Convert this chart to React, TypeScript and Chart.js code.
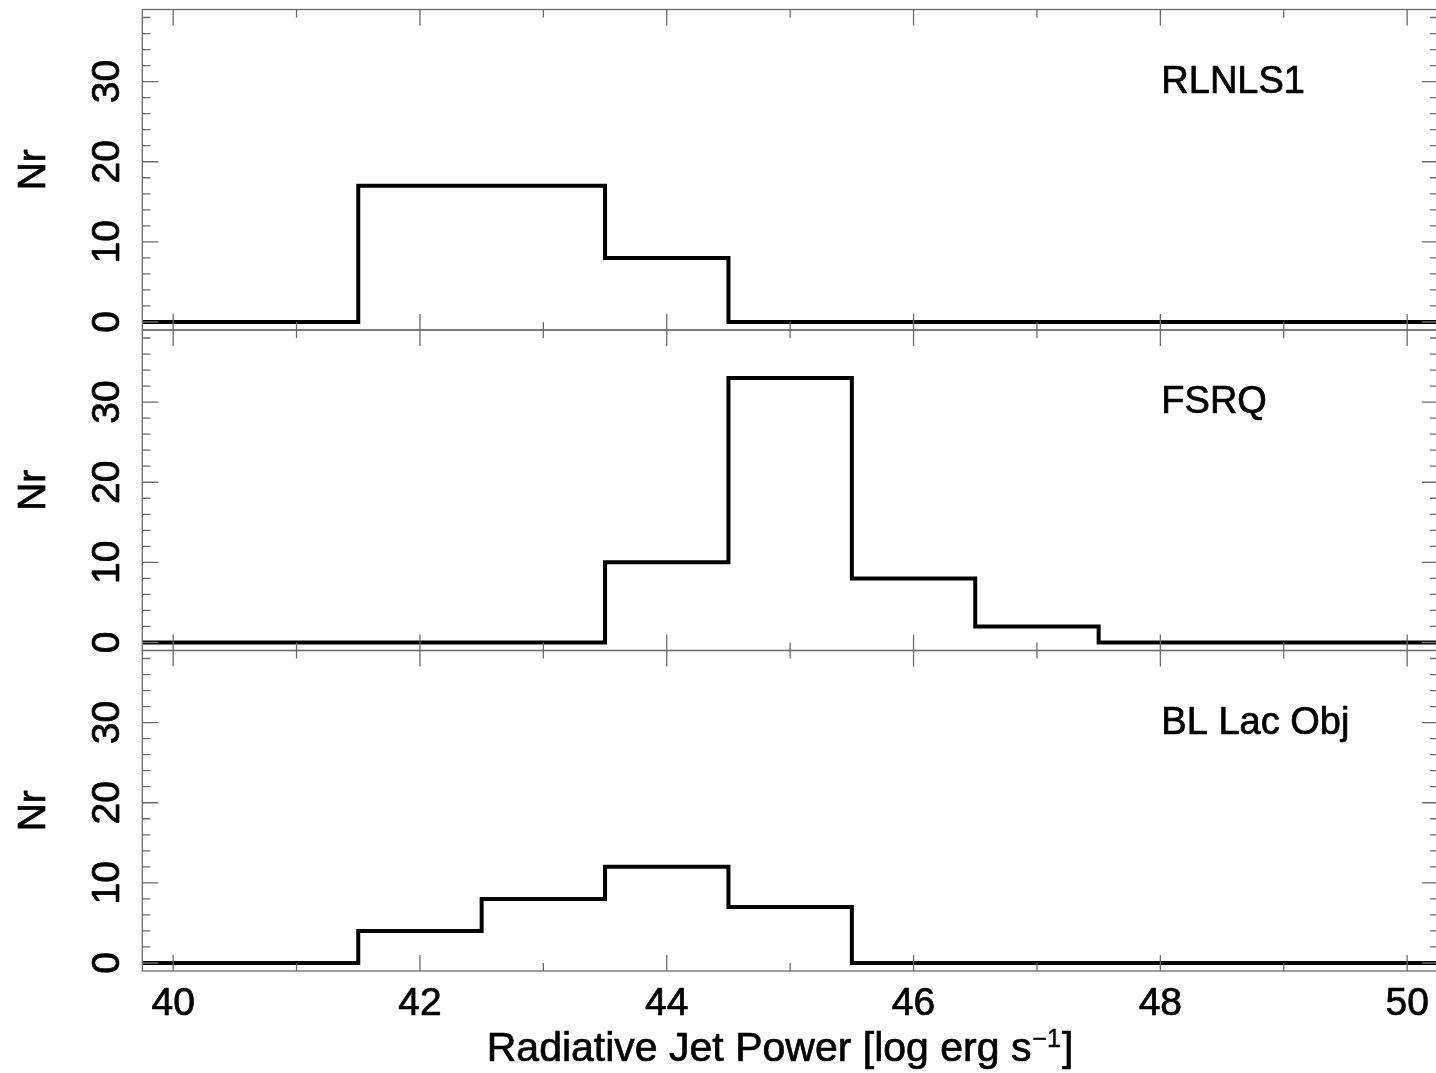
import React, { useEffect, useRef } from "react";
import { Chart, registerables } from "chart.js";

Chart.register(...registerables);

// ---- Data ----
const binEdges = [39.5, 40.5, 41.5, 42.5, 43.5, 44.5, 45.5, 46.5, 47.5, 48.5, 49.5, 50.5];
const rlnls1Counts = [0, 0, 17, 17, 8, 0, 0, 0, 0, 0, 0];
const fsrqCounts = [0, 0, 0, 0, 10, 33, 8, 2, 0, 0, 0];
const blLacCounts = [0, 0, 4, 8, 12, 7, 0, 0, 0, 0, 0];
const panelNames = ["RLNLS1", "FSRQ", "BL Lac Obj"];
const panelCounts = [rlnls1Counts, fsrqCounts, blLacCounts];

const xMajorTicks = [40, 42, 44, 46, 48, 50];
const xMinorTicks = [41, 43, 45, 47, 49];
const yMajorTicks = [0, 10, 20, 30];
const yMinorTicks = [2, 4, 6, 8, 12, 14, 16, 18, 22, 24, 26, 28, 32, 34, 36, 38];
const xMin = 39.75;
const xMax = 50.25;
const yMin = -1;
const yMax = 39;
const labelX = 48;
const labelY = 30;

const xTitleMain = "Radiative Jet Power [log erg s";
const xTitleSup = "\u22121";
const xTitleEnd = "]";
const yTitle = "Nr";

// ---- Layout ----
const W = 1440;
const H = 1073;
const PANEL_TOPS = [9.5, 330, 650.5];
const PANEL_H = 320.5;
const PLOT_LEFT = 142.3;
const PLOT_RIGHT = 1438;
const FONT = '"Liberation Sans", Arial, Helvetica, sans-serif';

function fillBold(ctx: any, text: string, x: number, y: number) {
  ctx.fillText(text, x, y);
  ctx.strokeText(text, x, y);
}

function makePlugin(idx: number) {
  const isBottom = idx === 2;
  return {
    id: "frame" + idx,
    afterDraw(chart: any) {
      const { ctx, chartArea } = chart;
      const { left, right, top, bottom } = chartArea;
      const xs = chart.scales.x;
      const ys = chart.scales.y;
      ctx.save();
      // frame
      ctx.strokeStyle = "#6a6a6a";
      ctx.lineWidth = 1.3;
      ctx.strokeRect(left, top, right - left, bottom - top);
      // x ticks
      const drawX = (vals: number[], len: number) => {
        vals.forEach((v) => {
          const px = xs.getPixelForValue(v);
          ctx.beginPath();
          ctx.moveTo(px, top);
          ctx.lineTo(px, top + len);
          ctx.moveTo(px, bottom);
          ctx.lineTo(px, bottom - len);
          ctx.stroke();
        });
      };
      drawX(xMajorTicks, 16);
      drawX(xMinorTicks, 8);
      const drawY = (vals: number[], len: number) => {
        vals.forEach((v) => {
          const py = ys.getPixelForValue(v);
          ctx.beginPath();
          ctx.moveTo(left, py);
          ctx.lineTo(left + len, py);
          ctx.moveTo(right, py);
          ctx.lineTo(right - len, py);
          ctx.stroke();
        });
      };
      drawY(yMajorTicks, 16);
      drawY(yMinorTicks, 8);

      // text styling
      ctx.fillStyle = "#000";
      ctx.strokeStyle = "#000";
      ctx.lineWidth = 0.7;
      ctx.lineJoin = "round";
      ctx.font = `39px ${FONT}`;
      ctx.textAlign = "center";
      ctx.textBaseline = "alphabetic";
      yMajorTicks.forEach((v) => {
        const py = ys.getPixelForValue(v);
        ctx.save();
        ctx.translate(118.5, py);
        ctx.rotate(-Math.PI / 2);
        fillBold(ctx, String(v), 0, 0);
        ctx.restore();
      });
      // y title
      ctx.save();
      ctx.translate(45, (top + bottom) / 2);
      ctx.rotate(-Math.PI / 2);
      fillBold(ctx, yTitle, 0, 0);
      ctx.restore();

      // panel label
      ctx.font = `38px ${FONT}`;
      ctx.textAlign = "left";
      fillBold(ctx, panelNames[idx], xs.getPixelForValue(labelX) + 1, ys.getPixelForValue(labelY) + 11);

      if (isBottom) {
        ctx.font = `39px ${FONT}`;
        ctx.textAlign = "center";
        xMajorTicks.forEach((v) => {
          fillBold(ctx, String(v), xs.getPixelForValue(v), 1015);
        });
        // x title with superscript
        const mainFont = `41px ${FONT}`;
        const supFont = `25px ${FONT}`;
        ctx.font = mainFont;
        const w1 = ctx.measureText(xTitleMain).width;
        const w3 = ctx.measureText(xTitleEnd).width;
        ctx.font = supFont;
        const w2 = ctx.measureText(xTitleSup).width;
        const total = w1 + w2 + w3 + 2;
        let sx = 780 - total / 2;
        const base = 1061;
        ctx.textAlign = "left";
        ctx.font = mainFont;
        fillBold(ctx, xTitleMain, sx, base);
        sx += w1 + 1;
        ctx.font = supFont;
        ctx.lineWidth = 0.4;
        fillBold(ctx, xTitleSup, sx, base - 14);
        sx += w2 + 1;
        ctx.lineWidth = 0.7;
        ctx.font = mainFont;
        fillBold(ctx, xTitleEnd, sx, base);
      }
      ctx.restore();
    },
  };
}

function Panel({ idx }: { idx: number }) {
  const ref = useRef<HTMLCanvasElement | null>(null);
  useEffect(() => {
    if (!ref.current) return;
    const counts = panelCounts[idx];
    const points = binEdges.map((e, i) => ({ x: e, y: counts[Math.min(i, counts.length - 1)] }));
    const top = PANEL_TOPS[idx];
    const chart = new Chart(ref.current, {
      type: "line",
      data: {
        datasets: [
          {
            data: points,
            stepped: "before",
            borderColor: "#000",
            borderWidth: 4,
            pointRadius: 0,
            fill: false,
            borderJoinStyle: "miter",
            borderCapStyle: "butt",
            clip: 0,
          } as any,
        ],
      },
      options: {
        animation: false,
        responsive: false,
        devicePixelRatio: 1,
        layout: {
          padding: {
            left: PLOT_LEFT,
            right: W - PLOT_RIGHT,
            top: top,
            bottom: H - (top + PANEL_H),
          },
        },
        scales: {
          x: { type: "linear", min: xMin, max: xMax, display: false },
          y: { type: "linear", min: yMin, max: yMax, display: false },
        },
        plugins: {
          legend: { display: false },
          tooltip: { enabled: false },
        },
        events: [],
      },
      plugins: [makePlugin(idx)],
    });
    return () => chart.destroy();
  }, [idx]);
  return (
    <canvas
      ref={ref}
      width={W}
      height={H}
      style={{ position: "absolute", left: 0, top: 0, width: W, height: H }}
    />
  );
}

export default function App() {
  return (
    <div
      style={{
        position: "absolute",
        left: 0,
        top: 0,
        width: 1436,
        height: 1073,
        overflow: "hidden",
        background: "#fff",
      }}
    >
      <Panel idx={0} />
      <Panel idx={1} />
      <Panel idx={2} />
    </div>
  );
}
